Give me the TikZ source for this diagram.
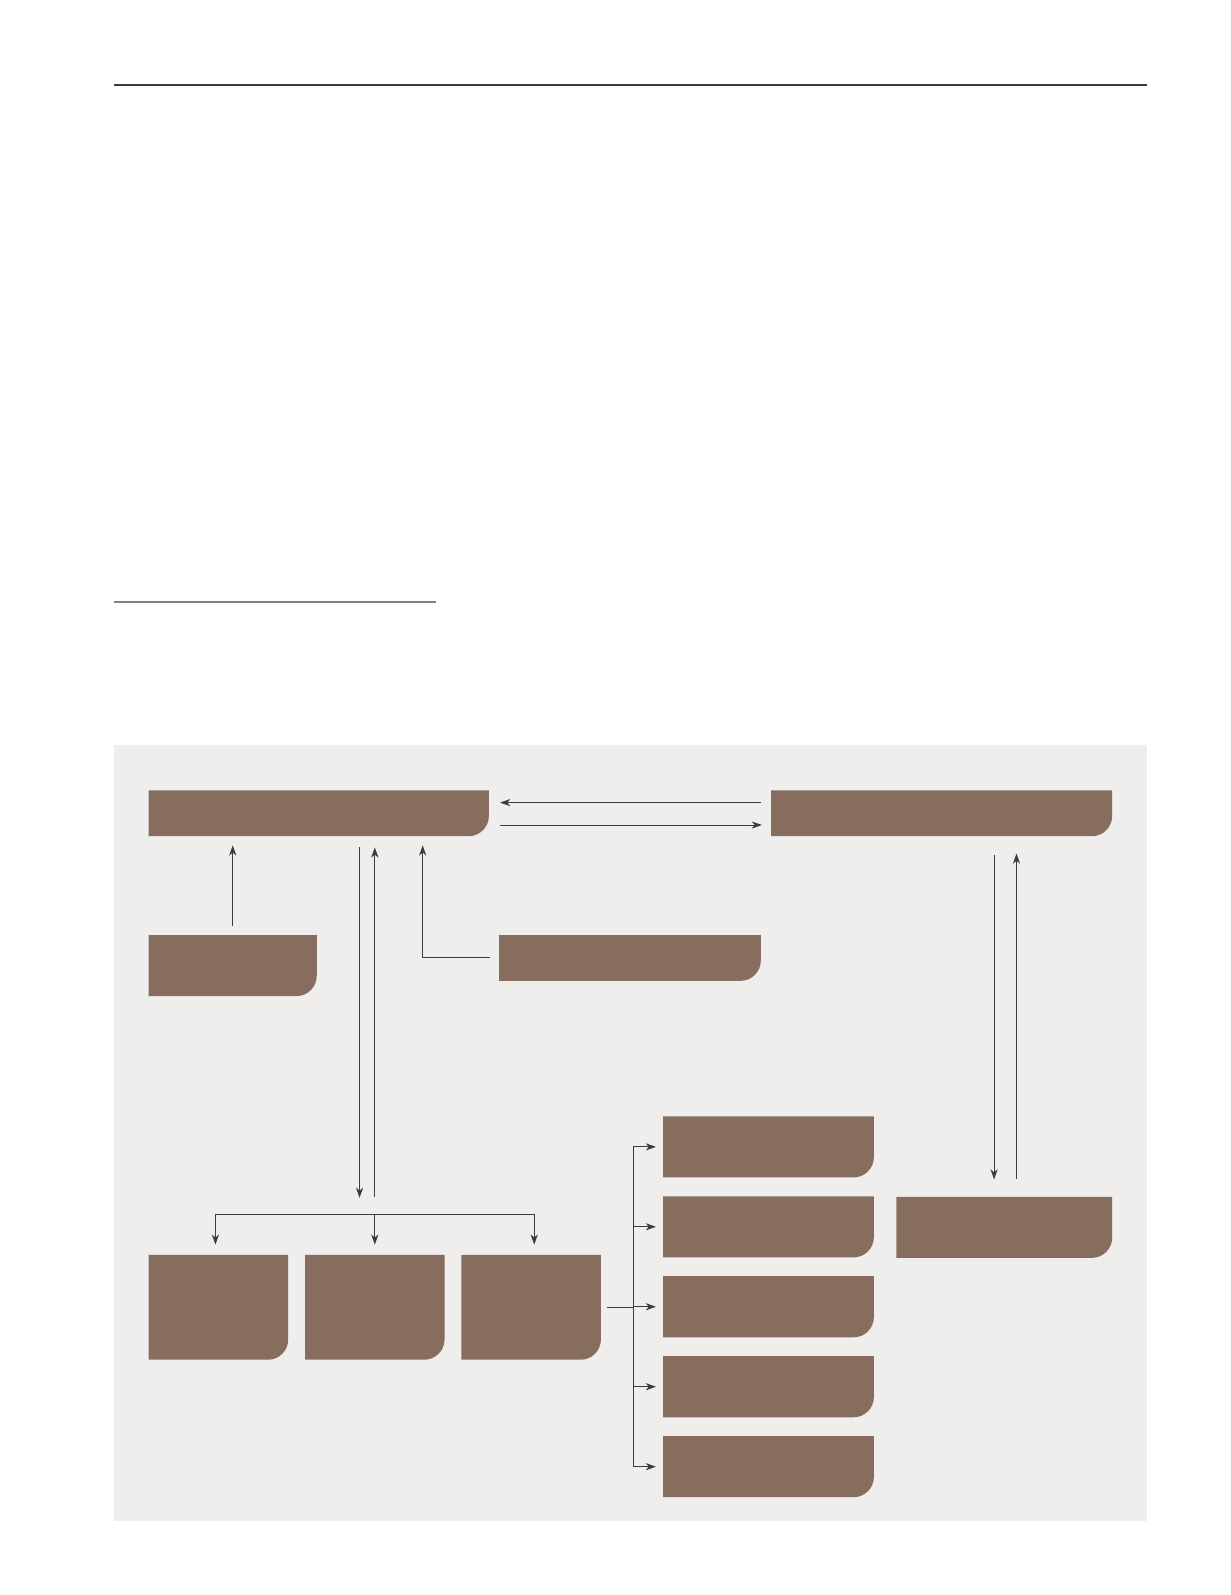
\documentclass[tikz,border=0pt]{standalone}
\usepackage{tikz}
\usetikzlibrary{
  arrows.meta,
  positioning
}
\definecolor{tilebrown}{HTML}{866D5E}
\definecolor{panelgray}{HTML}{EFEEEC}
\definecolor{linkgray}{HTML}{3C3C3C}
\tikzset{
  >={Stealth[length=10pt,width=7pt,inset=3pt]},
  link/.style={draw=linkgray, line width=1pt},
  tile/.style={inner sep=0pt, outer sep=0pt, anchor=north west,
    path picture={\fill[tilebrown] (path picture bounding box.north west)
      -- (path picture bounding box.north east)
      -- ([yshift=20pt]path picture bounding box.south east)
      arc[start angle=0, end angle=-90, radius=20pt]
      -- (path picture bounding box.south west) -- cycle;}}
}

\begin{document}
\begin{tikzpicture}[x=1pt, y=-1pt]
    \useasboundingbox (0,0) rectangle (1208,1566);
    % page rules and grey panel
    \draw[line width=2pt, draw=linkgray] (112,83) -- (1126,83);
    \draw[line width=1.2pt, draw=gray] (112,591) -- (428,591);
    \fill[panelgray] (112,731) rectangle (1126,1493);
    % tiles
    \node[tile, minimum width=334pt, minimum height=45pt] (a) at (146,776) {};
    \node[tile, minimum width=335pt, minimum height=45pt] (b) at (757,776) {};
    \node[tile, minimum width=165pt, minimum height=60pt] (c) at (146,918) {};
    \node[tile, minimum width=257pt, minimum height=45pt] (d) at (490,918) {};
    \node[tile, minimum width=212pt, minimum height=60pt] (e) at (880,1175) {};
    \node[tile, minimum width=137pt, minimum height=103pt] (f1) at (146,1232) {};
    \node[tile, minimum width=137pt, minimum height=103pt, right=16.5pt of f1] (f2) {};
    \node[tile, minimum width=137pt, minimum height=103pt, right=16.5pt of f2] (f3) {};
    \node[tile, minimum width=207pt, minimum height=60pt] (g1) at (651,1096) {};
    \node[tile, minimum width=207pt, minimum height=60pt, below=18.5pt of g1] (g2) {};
    \node[tile, minimum width=207pt, minimum height=60pt, below=18.5pt of g2] (g3) {};
    \node[tile, minimum width=207pt, minimum height=60pt, below=18.5pt of g3] (g4) {};
    \node[tile, minimum width=207pt, minimum height=60pt, below=18.5pt of g4] (g5) {};
    \coordinate (fork) at (f2.north |- 0,1192);
    \coordinate (split) at ([xshift=32pt]f3.east);
    % connectors
    \draw[link, ->, shorten <=10pt, shorten >=11pt] ([yshift=10.5pt]b.west) -- ([yshift=10.5pt]a.east);
    \draw[link, ->, shorten <=11pt, shorten >=9pt] ([yshift=-11.5pt]a.east) -- ([yshift=-11.5pt]b.west);
    \draw[link, ->, shorten <=9pt, shorten >=9pt] (c.north) -- (c.north |- a.south);
    \draw[link, ->, shorten <=9pt, shorten >=9pt] (d.west) -| ([xshift=-65pt]a.south east);
    \draw[link, ->, shorten <=11pt, shorten >=16pt] ([xshift=-15pt]fork |- a.south) -- ([xshift=-15pt]fork);
    \draw[link, ->, shorten <=17pt, shorten >=11pt] (fork) -- (fork |- a.south);
    \draw[link, ->] (fork) -| ([xshift=-3pt,yshift=10pt]f1.north);
    \draw[link, ->] (fork) -- ([yshift=10pt]f2.north);
    \draw[link, ->] (fork) -| ([xshift=3pt,yshift=10pt]f3.north);
    \draw[link, ->, shorten <=18pt, shorten >=17pt] ([xshift=-10pt]e.north |- b.south) -- ([xshift=-10pt]e.north);
    \draw[link, ->, shorten <=17pt, shorten >=17pt] ([xshift=12pt]e.north) -- ([xshift=12pt]e.north |- b.south);
    \draw[link, shorten <=6pt] (f3.east) -- (split);
    \foreach \g in {g1,g2,g3,g4,g5}
      \draw[link, ->, shorten >=7pt] (split) |- (\g.west);
\end{tikzpicture}
\end{document}
